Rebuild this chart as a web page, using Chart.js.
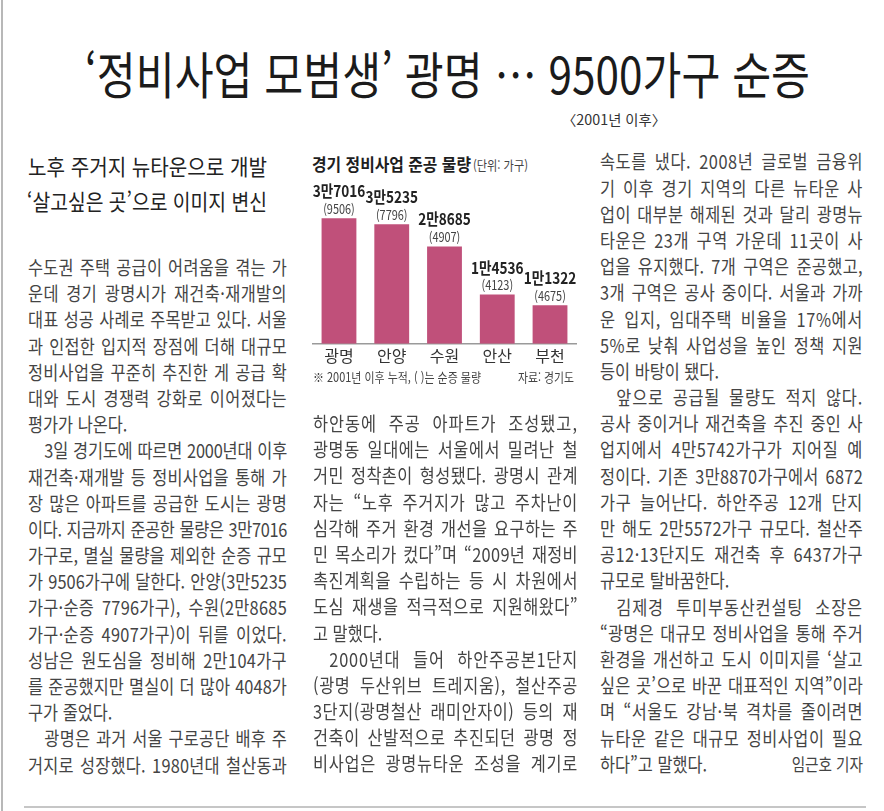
<!DOCTYPE html>
<html lang="ko">
  <head>
    <meta charset="UTF-8" />
    <title>정비사업 모범생 광명</title>
    <script src="https://cdn.jsdelivr.net/npm/chart.js"></script>
    <style>
      body {
        margin: 0;
        width: 884px;
        height: 811px;
        overflow: hidden;
        background: #fff;
        position: relative;
        font-family: 'Noto Sans CJK KR', sans-serif;
        color: #444;
      }
      .abs {
        position: absolute;
        white-space: nowrap;
        transform-origin: 0 0;
      }
      .col {
        position: absolute;
        transform-origin: 0 0;
        font-size: 19px;
        line-height: 26.2px;
        color: #444;
      }
      .col div {
        height: 26.2px;
        text-align: justify;
        text-align-last: justify;
      }
      .col div.end {
        text-align-last: left;
      }
      .col div.ind {
        padding-left: 19px;
      }
      .rule-left {
        position: absolute;
        left: 1px;
        top: 0;
        width: 2px;
        height: 811px;
        background: #b8b8b8;
      }
      .rule-bottom {
        position: absolute;
        left: 24px;
        top: 806px;
        width: 842px;
        height: 2px;
        background: #c6c6c6;
      }
      #chart-box {
        position: absolute;
        left: 305px;
        top: 150px;
      }
    </style>
  </head>
  <body>
    <div class="rule-left"></div>

    <div class="abs" data-fit="725" style="left: 85px; top: 47px; font-size: 50px; line-height: 50px; color: #1b1b1b">‘정비사업 모범생’ 광명 … 9500가구 순증</div>
    <div class="abs" data-fit="104" style="left: 562px; top: 112px; font-size: 14px; line-height: 14px; color: #333">〈2001년 이후〉</div>

    <div class="abs" data-fit="239" style="left: 28px; top: 148px; font-size: 22px; line-height: 35px; color: #222">노후 주거지 뉴타운으로 개발</div>
    <div class="abs" data-fit="240" style="left: 27px; top: 183px; font-size: 22px; line-height: 35px; color: #222">‘살고싶은 곳’으로 이미지 변신</div>

    <!-- 그래픽 -->
    <div class="abs" data-fit="159" style="left: 312px; top: 154.5px; font-size: 17px; line-height: 17px; font-weight: 700; color: #1e1e1e">경기 정비사업 준공 물량</div>
    <div class="abs" data-fit="55" style="left: 473px; top: 158px; font-size: 13px; line-height: 13px; color: #444">(단위: 가구)</div>
    <div id="chart-box"><canvas id="chart" width="285" height="240"></canvas></div>
    <div class="abs" data-fit="168" style="left: 313px; top: 370px; font-size: 13px; line-height: 13px; color: #444">※ 2001년 이후 누적, ( )는 순증 물량</div>
    <div class="abs" data-fit="56" style="left: 518px; top: 370px; font-size: 13px; line-height: 13px; color: #444">자료: 경기도</div>

    <div class="col" data-w="259" style="left: 28px; top: 254px">
      <div>수도권 주택 공급이 어려움을 겪는 가</div>
      <div>운데 경기 광명시가 재건축·재개발의</div>
      <div>대표 성공 사례로 주목받고 있다. 서울</div>
      <div>과 인접한 입지적 장점에 더해 대규모</div>
      <div>정비사업을 꾸준히 추진한 게 공급 확</div>
      <div>대와 도시 경쟁력 강화로 이어졌다는</div>
      <div class="end">평가가 나온다.</div>
      <div class="ind">3일 경기도에 따르면 2000년대 이후</div>
      <div>재건축·재개발 등 정비사업을 통해 가</div>
      <div>장 많은 아파트를 공급한 도시는 광명</div>
      <div>이다. 지금까지 준공한 물량은 3만7016</div>
      <div>가구로, 멸실 물량을 제외한 순증 규모</div>
      <div>가 9506가구에 달한다. 안양(3만5235</div>
      <div>가구·순증 7796가구), 수원(2만8685</div>
      <div>가구·순증 4907가구)이 뒤를 이었다.</div>
      <div>성남은 원도심을 정비해 2만104가구</div>
      <div>를 준공했지만 멸실이 더 많아 4048가</div>
      <div class="end">구가 줄었다.</div>
      <div class="ind">광명은 과거 서울 구로공단 배후 주</div>
      <div>거지로 성장했다. 1980년대 철산동과</div>
    </div>

    <div class="col" data-w="265" style="left: 313px; top: 410px">
      <div>하안동에 주공 아파트가 조성됐고,</div>
      <div>광명동 일대에는 서울에서 밀려난 철</div>
      <div>거민 정착촌이 형성됐다. 광명시 관계</div>
      <div>자는 “노후 주거지가 많고 주차난이</div>
      <div>심각해 주거 환경 개선을 요구하는 주</div>
      <div>민 목소리가 컸다”며 “2009년 재정비</div>
      <div>촉진계획을 수립하는 등 시 차원에서</div>
      <div>도심 재생을 적극적으로 지원해왔다”</div>
      <div class="end">고 말했다.</div>
      <div class="ind">2000년대 들어 하안주공본1단지</div>
      <div>(광명 두산위브 트레지움), 철산주공</div>
      <div>3단지(광명철산 래미안자이) 등의 재</div>
      <div>건축이 산발적으로 추진되던 광명 정</div>
      <div>비사업은 광명뉴타운 조성을 계기로</div>
    </div>

    <div class="col" data-w="263" style="left: 600px; top: 148.4px">
      <div>속도를 냈다. 2008년 글로벌 금융위</div>
      <div>기 이후 경기 지역의 다른 뉴타운 사</div>
      <div>업이 대부분 해제된 것과 달리 광명뉴</div>
      <div>타운은 23개 구역 가운데 11곳이 사</div>
      <div>업을 유지했다. 7개 구역은 준공했고,</div>
      <div>3개 구역은 공사 중이다. 서울과 가까</div>
      <div>운 입지, 임대주택 비율을 17%에서</div>
      <div>5%로 낮춰 사업성을 높인 정책 지원</div>
      <div class="end">등이 바탕이 됐다.</div>
      <div class="ind">앞으로 공급될 물량도 적지 않다.</div>
      <div>공사 중이거나 재건축을 추진 중인 사</div>
      <div>업지에서 4만5742가구가 지어질 예</div>
      <div>정이다. 기존 3만8870가구에서 6872</div>
      <div>가구 늘어난다. 하안주공 12개 단지</div>
      <div>만 해도 2만5572가구 규모다. 철산주</div>
      <div>공12·13단지도 재건축 후 6437가구</div>
      <div class="end">규모로 탈바꿈한다.</div>
      <div class="ind">김제경 투미부동산컨설팅 소장은</div>
      <div>“광명은 대규모 정비사업을 통해 주거</div>
      <div>환경을 개선하고 도시 이미지를 ‘살고</div>
      <div>싶은 곳’으로 바꾼 대표적인 지역”이라</div>
      <div>며 “서울도 강남·북 격차를 줄이려면</div>
      <div>뉴타운 같은 대규모 정비사업이 필요</div>
      <div class="end byline" style="display: flex; justify-content: space-between">
        <span>하다”고 말했다.</span><span style="font-size: 17px">임근호 기자</span>
      </div>
    </div>

    <div class="rule-bottom"></div>

    <script>
      const cities = ['광명', '안양', '수원', '안산', '부천']
      const totalUnits = [37016, 35235, 28685, 14536, 11322]
      const netUnits = [9506, 7796, 4907, 4123, 4675]
      const yMax = 40000

      const FONT = "'Noto Sans CJK KR', sans-serif"

      // 글자 폭 맞추기
      document.querySelectorAll('[data-fit]').forEach((el) => {
        const w = el.getBoundingClientRect().width
        el.style.transform = `scaleX(${parseFloat(el.dataset.fit) / w})`
      })

      // 본문 단: 장평 줄이고 줄마다 자간으로 폭 맞춤
      document.querySelectorAll('.col').forEach((col) => {
        const s = 0.86
        const inner = parseFloat(col.dataset.w) / s
        col.style.width = inner + 'px'
        col.style.transform = `scaleX(${s})`
        col.querySelectorAll(':scope > div').forEach((line) => {
          if (line.classList.contains('byline')) return
          const text = line.textContent.trim()
          const probe = document.createElement('span')
          probe.style.cssText = 'position:absolute;white-space:nowrap;visibility:hidden'
          probe.textContent = text
          col.appendChild(probe)
          const w = probe.offsetWidth
          probe.remove()
          const avail = inner - (line.classList.contains('ind') ? 19 : 0)
          if (w > avail - 2) {
            line.style.letterSpacing = -((w - avail + 3) / text.length) + 'px'
          } else if (!line.classList.contains('end')) {
            line.style.letterSpacing = ((avail - w) * 0.5) / text.length + 'px'
          }
        })
      })

      function toMan(v) {
        const man = Math.floor(v / 10000)
        return man > 0 ? man + '만' + (v % 10000) : String(v)
      }

      function drawNarrow(ctx, text, x, y, font, color, sx) {
        ctx.save()
        ctx.translate(x, y)
        ctx.scale(sx, 1)
        ctx.font = font
        ctx.fillStyle = color
        ctx.textAlign = 'center'
        ctx.textBaseline = 'middle'
        ctx.fillText(text, 0, 0)
        ctx.restore()
      }

      const barLabels = {
        id: 'barLabels',
        afterDatasetsDraw(chart) {
          const ctx = chart.ctx
          chart.getDatasetMeta(0).data.forEach((bar, i) => {
            drawNarrow(ctx, toMan(totalUnits[i]), bar.x, bar.y - 27, `700 16px ${FONT}`, '#222', 0.85)
            drawNarrow(ctx, '(' + netUnits[i] + ')', bar.x, bar.y - 9, `400 13px ${FONT}`, '#444', 0.84)
          })
        },
      }

      new Chart(document.getElementById('chart'), {
        type: 'bar',
        data: {
          labels: cities,
          datasets: [
            {
              data: totalUnits,
              backgroundColor: '#c0507a',
              barPercentage: 0.66,
              categoryPercentage: 1,
            },
          ],
        },
        options: {
          responsive: false,
          animation: false,
          layout: { padding: { left: 7.6, right: 13.6, top: 58, bottom: 21 } },
          plugins: { legend: { display: false }, tooltip: { enabled: false } },
          scales: {
            x: {
              grid: { display: false, drawTicks: false },
              border: { display: true, color: '#9a9a9a', width: 1.5 },
              ticks: { color: '#333', padding: 3, font: { family: FONT, size: 16 } },
            },
            y: { display: false, min: 0, max: yMax },
          },
        },
        plugins: [barLabels],
      })
    </script>
  </body>
</html>
